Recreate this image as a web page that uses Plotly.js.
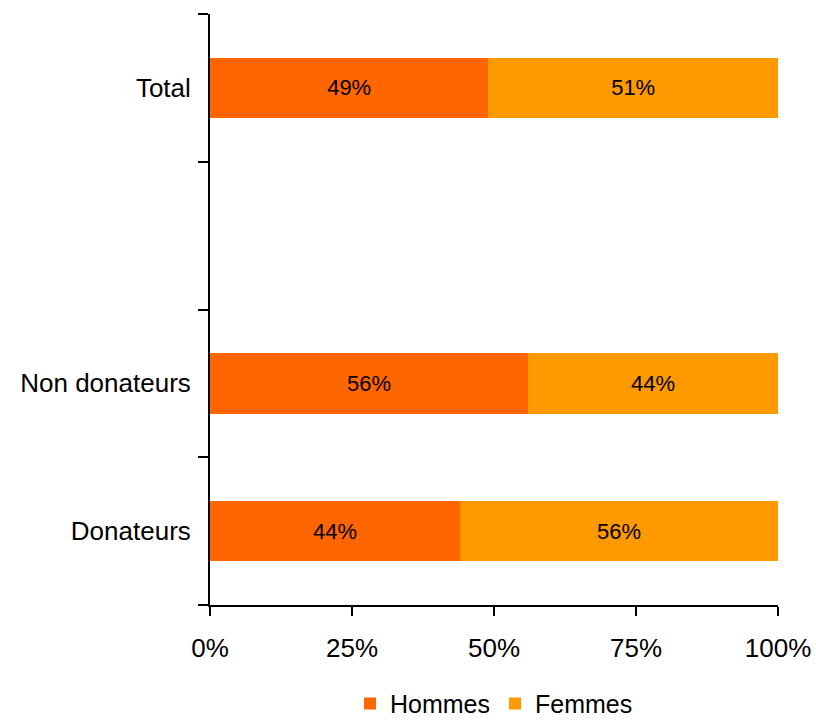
<!DOCTYPE html>
<html>
<head>
<meta charset="utf-8">
<script src="https://cdn.plot.ly/plotly-3.0.1.min.js"></script>
<style>html,body{margin:0;padding:0;background:#fff;}#chart{width:816px;height:725px;}</style>
</head>
<body>
<div id="chart"></div>
<script>
var categories = ["Donateurs", "Non donateurs", " ", "Total"];
var hommes = [44, 56, null, 49];
var femmes = [56, 44, null, 51];
var xTickVals = [0, 25, 50, 75, 100];
var xTickText = ["0%", "25%", "50%", "75%", "100%"];

var font = "Liberation Sans, Arial, sans-serif";

var traces = [
  {
    type: "bar", orientation: "h", name: "Hommes",
    y: categories, x: hommes,
    marker: {color: "#FF6600"},
    width: 0.41,
    text: hommes.map(function(v){ return v === null ? "" : v + "%"; }),
    textposition: "inside", insidetextanchor: "middle", textangle: 0,
    textfont: {family: font, size: 22, color: "#000"},
    hoverinfo: "skip"
  },
  {
    type: "bar", orientation: "h", name: "Femmes",
    y: categories, x: femmes,
    marker: {color: "#FF9900"},
    width: 0.41,
    text: femmes.map(function(v){ return v === null ? "" : v + "%"; }),
    textposition: "inside", insidetextanchor: "middle", textangle: 0,
    textfont: {family: font, size: 22, color: "#000"},
    hoverinfo: "skip"
  }
];

var layout = {
  width: 816, height: 725,
  margin: {l: 210, r: 38, t: 14, b: 120, autoexpand: false},
  paper_bgcolor: "#fff", plot_bgcolor: "#fff",
  barmode: "stack",
  showlegend: true,
  font: {family: font, color: "#000"},
  xaxis: {
    range: [0, 100],
    tickvals: xTickVals, ticktext: xTickText,
    showgrid: false, zeroline: false,
    showline: true, linecolor: "#000", linewidth: 2,
    ticks: "outside", ticklen: 9, tickwidth: 2, tickcolor: "#000",
    tickfont: {family: font, size: 26, color: "#000"},
    ticklabelstandoff: 10,
    automargin: false,
    fixedrange: true
  },
  yaxis: {
    type: "category",
    categoryorder: "array", categoryarray: categories,
    range: [-0.5, 3.5],
    showgrid: false, zeroline: false,
    showline: true, linecolor: "#000", linewidth: 2,
    ticks: "outside", tickson: "boundaries", ticklen: 10, tickwidth: 2, tickcolor: "#000",
    tickfont: {family: font, size: 26, color: "#000"},
    ticklabelstandoff: 12,
    automargin: false,
    fixedrange: true
  },
  legend: {
    orientation: "h",
    x: 0.5, xanchor: "center",
    y: -0.128, yanchor: "top",
    font: {family: font, size: 25, color: "#000"},
    traceorder: "normal",
    itemclick: false, itemdoubleclick: false
  }
};

Plotly.newPlot("chart", traces, layout, {displayModeBar: false, staticPlot: true});
</script>
</body>
</html>
